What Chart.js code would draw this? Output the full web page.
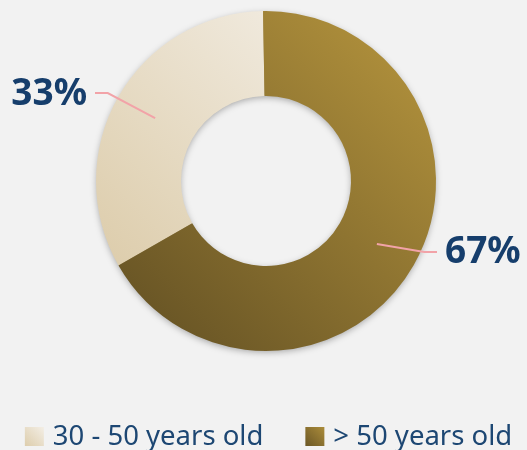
<!DOCTYPE html>
<html lang="en">
<head>
  <meta charset="UTF-8"/>
  <meta name="viewport" content="width=device-width, initial-scale=1.0"/>
  <title>Age Split</title>
  <script src="https://cdn.jsdelivr.net/npm/chart.js"></script>
  <style>
    html, body {
      margin: 0;
      padding: 0;
      background: #f2f2f2;
      overflow: hidden;
    }

    .wrap {
      width: 527px;
      height: 450px;
    }
  </style>
</head>
<body>

  <div class="wrap"><canvas id="ageChart"></canvas></div>

  <script>
    const ageGroups = ['30 - 50 years old', '> 50 years old'];
    const shares = [33, 67];

    // top-right colour, bottom-left colour for each slice
    const sliceStops = [
      ['#f3eee5', '#ddcdac'],
      ['#ab8c3a', '#6b5726']
    ];

    const RADIUS = 170;

    function diagGradient(ctx, x, y, half, stops) {
      const g = ctx.createLinearGradient(x + half, y - half, x - half, y + half);
      g.addColorStop(0, stops[0]);
      g.addColorStop(1, stops[1]);
      return g;
    }

    function sliceColor(c) {
      const area = c.chart.chartArea;
      if (!area) return sliceStops[c.dataIndex][0];
      const cx = (area.left + area.right) / 2;
      const cy = (area.top + area.bottom) / 2;
      return diagGradient(c.chart.ctx, cx, cy, RADIUS * 0.707, sliceStops[c.dataIndex]);
    }

    // soft drop shadow under the whole ring
    const ringShadow = {
      id: 'ringShadow',
      beforeDatasetsDraw(chart) {
        const arc = chart.getDatasetMeta(0).data[0];
        if (!arc) return;
        const ctx = chart.ctx;
        ctx.save();
        ctx.shadowColor = 'rgba(0, 0, 0, 0.35)';
        ctx.shadowBlur = 7;
        ctx.shadowOffsetY = 2;
        ctx.fillStyle = '#a89670';
        ctx.beginPath();
        ctx.arc(arc.x, arc.y, arc.outerRadius - 1, 0, Math.PI * 2);
        ctx.arc(arc.x, arc.y, arc.innerRadius + 1, 0, Math.PI * 2, true);
        ctx.fill();
        ctx.restore();
      }
    };

    // percentage labels with leader lines
    const sliceLabels = {
      id: 'sliceLabels',
      afterDatasetsDraw(chart, args, opts) {
        const ctx = chart.ctx;
        const total = shares.reduce((a, b) => a + b, 0);
        chart.getDatasetMeta(0).data.forEach((arc, i) => {
          const mid = (arc.startAngle + arc.endAngle) / 2;
          const rMid = (arc.innerRadius + arc.outerRadius) / 2;
          const cos = Math.cos(mid), sin = Math.sin(mid);
          const side = cos < 0 ? -1 : 1;
          const x0 = arc.x + cos * rMid;
          const y0 = arc.y + sin * rMid;
          const x1 = arc.x + cos * (arc.outerRadius + 12);
          const y1 = arc.y + sin * (arc.outerRadius + 12) + opts.shift[i];
          const x2 = arc.x + side * (arc.outerRadius + 1);

          ctx.save();
          ctx.strokeStyle = opts.lineColor;
          ctx.lineWidth = 2;
          ctx.beginPath();
          ctx.moveTo(x0, y0);
          ctx.lineTo(x1, y1);
          ctx.lineTo(x2, y1);
          ctx.stroke();

          ctx.fillStyle = opts.color;
          ctx.font = 'bold 37px "Noto Sans"';
          ctx.textBaseline = 'middle';
          ctx.textAlign = side < 0 ? 'right' : 'left';
          const pct = Math.round(shares[i] / total * 100) + '%';
          ctx.fillText(pct, x2 + side * 8, y1 + 1);
          ctx.restore();
        });
      }
    };

    // legend row with gradient swatches
    const bottomLegend = {
      id: 'bottomLegend',
      afterDraw(chart, args, opts) {
        const ctx = chart.ctx;
        ctx.save();
        ctx.font = opts.size + 'px "Noto Sans"';
        const box = 19, textGap = 9, itemGap = 42;
        const widths = ageGroups.map(t => ctx.measureText(t).width);
        const total = widths.reduce((a, w) => a + box + textGap + w, 0) + itemGap * (widths.length - 1);
        let x = chart.width / 2 + opts.offsetX - total / 2;
        const base = chart.height - 5;
        ageGroups.forEach((label, i) => {
          const top = base - 18;
          ctx.fillStyle = diagGradient(ctx, x + box / 2, top + box / 2, box / 2, sliceStops[i]);
          ctx.fillRect(x, top, box, box);
          ctx.fillStyle = opts.color;
          ctx.textBaseline = 'alphabetic';
          ctx.textAlign = 'left';
          ctx.fillText(label, x + box + textGap, base);
          x += box + textGap + widths[i] + itemGap;
        });
        ctx.restore();
      }
    };

    new Chart(document.getElementById('ageChart'), {
      type: 'doughnut',
      data: {
        labels: ageGroups,
        datasets: [{
          data: shares,
          backgroundColor: sliceColor,
          borderWidth: 0,
          hoverOffset: 0
        }]
      },
      options: {
        responsive: true,
        maintainAspectRatio: false,
        animation: false,
        rotation: -shares[0] * 3.6 - 1,
        radius: RADIUS,
        cutout: '50%',
        layout: { padding: { left: 5, bottom: 88 } },
        plugins: {
          legend: { display: false },
          tooltip: { enabled: false },
          sliceLabels: { color: '#163e6c', lineColor: '#f2a3a8', shift: [2, -19] },
          bottomLegend: { color: '#1d4773', size: 27.5, offsetX: 5 }
        }
      },
      plugins: [ringShadow, sliceLabels, bottomLegend]
    });
  </script>
</body>
</html>
